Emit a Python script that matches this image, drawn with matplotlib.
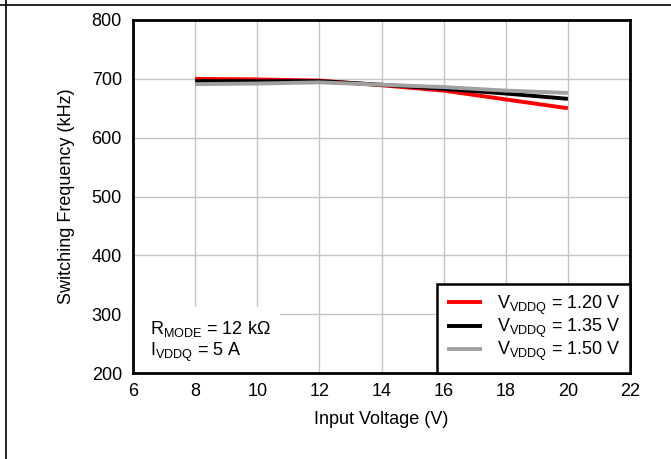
import matplotlib
matplotlib.use("Agg")
import matplotlib.pyplot as plt
from matplotlib.lines import Line2D
from matplotlib.patches import Rectangle

plt.rcParams['font.family'] = ['Liberation Sans', 'DejaVu Sans']
plt.rcParams['mathtext.fontset'] = 'custom'
plt.rcParams['mathtext.rm'] = 'Liberation Sans'
plt.rcParams['mathtext.it'] = 'Liberation Sans:italic'

vin = [8, 10, 12, 14, 16, 18, 20]
f_120 = [700, 699, 697, 689, 680, 665, 650]
f_135 = [696, 696, 696, 690, 683, 675, 666]
f_150 = [691, 692, 694, 690, 686, 680, 676]
labels = [r'V$_{\mathrm{VDDQ}}$ = 1.20 V', r'V$_{\mathrm{VDDQ}}$ = 1.35 V', r'V$_{\mathrm{VDDQ}}$ = 1.50 V']
colors = ['#ff0000', '#000000', '#a0a0a0']
xticks = [6, 8, 10, 12, 14, 16, 18, 20, 22]
yticks = [200, 300, 400, 500, 600, 700, 800]

FS = 13

fig = plt.figure(figsize=(6.71, 4.59), dpi=100)
ax = fig.add_axes([133/671, 1-373/459, (630-133)/671, (373-20)/459])

for ys, c, lab in zip([f_120, f_135, f_150], colors, labels):
    ax.plot(vin, ys, color=c, lw=2.8, label=lab, solid_capstyle='butt', zorder=3)

ax.set_xlim(6, 22)
ax.set_ylim(200, 800)
ax.set_xticks(xticks)
ax.set_yticks(yticks)
ax.grid(True, color='#c4c4c4', lw=1.0, zorder=0)
ax.set_axisbelow(True)
ax.tick_params(axis='y', length=0, labelsize=FS, pad=8)
ax.tick_params(axis='x', length=0, labelsize=FS, pad=7)
for s in ax.spines.values():
    s.set_linewidth(2.0)
    s.set_zorder(5)

ax.set_xlabel('Input Voltage (V)', fontsize=FS, labelpad=8)
ax.set_ylabel('Switching Frequency (kHz)', fontsize=FS, labelpad=12)

# white box behind annotation
ax.add_patch(Rectangle((0, 0), (280-133)/497, (373-307)/353, transform=ax.transAxes,
                       facecolor='white', edgecolor='none', zorder=1))
ax.text(0.034, 0.110, r'R$_{\mathrm{MODE}}$ = 12 k$\Omega$', transform=ax.transAxes,
        fontsize=FS, va='baseline', zorder=4)
ax.text(0.034, 0.049, r'I$_{\mathrm{VDDQ}}$ = 5 A', transform=ax.transAxes,
        fontsize=FS, va='baseline', zorder=4)

leg = ax.legend(loc='lower right', fontsize=FS, frameon=True, fancybox=False,
                edgecolor='black', framealpha=1, borderaxespad=0, handlelength=1.95,
                handletextpad=0.8, labelspacing=0.0, borderpad=0.55)
leg.get_frame().set_linewidth(1.8)
leg.set_zorder(6)

# figure border lines (top and left)
fig.add_artist(Line2D([0, 1], [1-4.5/459, 1-4.5/459], transform=fig.transFigure, color='black', lw=1.2))
fig.add_artist(Line2D([5.5/671, 5.5/671], [0, 1], transform=fig.transFigure, color='black', lw=1.2))

fig.savefig('out.png', dpi=100)
